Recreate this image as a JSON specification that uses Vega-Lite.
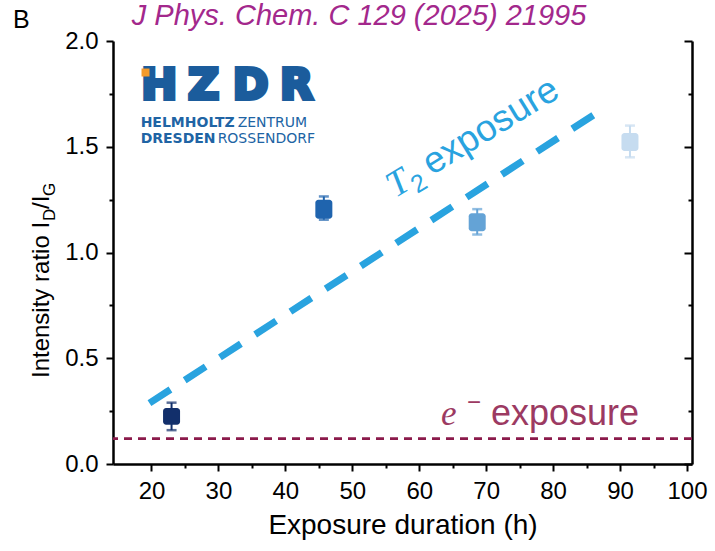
{
  "$schema": "https://vega.github.io/schema/vega-lite/v6.json",
  "width": 579,
  "height": 423,
  "autosize": {"type": "none"},
  "padding": {"left": 113, "top": 41, "right": 23, "bottom": 87},
  "background": "white",
  "config": {"view": {"stroke": null}, "font": "Liberation Sans"},
  "resolve": {"axis": {"x": "independent", "y": "independent"}},
  "datasets": {
    "points": [
      {"t": 23, "mean": 0.225, "q1": 0.185, "q3": 0.265, "lo": 0.16, "hi": 0.29, "sample": "23 h"},
      {"t": 45.75, "mean": 1.205, "q1": 1.16, "q3": 1.25, "lo": 1.155, "hi": 1.265, "sample": "46 h"},
      {"t": 68.66, "mean": 1.14, "q1": 1.1, "q3": 1.185, "lo": 1.085, "hi": 1.205, "sample": "69 h"},
      {"t": 91.48, "mean": 1.52, "q1": 1.48, "q3": 1.565, "lo": 1.45, "hi": 1.6, "sample": "92 h"}
    ],
    "trend": [{"x": 19.7, "y": 0.288}, {"x": 87.5, "y": 1.68}],
    "eline": [{"y": 0.12}],
    "b": [{"x": -0.7, "y": 2.0615}],
    "head": [{"x": 17.06, "y": 2.0757}],
    "ytitle": [{"x": 4.72, "y": 0.4066}],
    "t2": [{"x": 56.4, "y": 1.257}],
    "em": [{"x": 63.25, "y": 0.1844}],
    "logo": [{"x": 18.38, "y": 1.721}],
    "sq": [{"x": 19.11, "y": 1.851}]
  },
  "layer": [
    {
      "data": {"name": "eline"},
      "mark": {"type": "rule", "color": "#8b1a4b", "strokeWidth": 2.7, "strokeDash": [8, 6]},
      "encoding": {
        "y": {"field": "y", "type": "quantitative", "scale": {"domain": [0, 2], "nice": false, "zero": false},
          "axis": {"orient": "left", "values": [0, 0.25, 0.5, 0.75, 1, 1.25, 1.5, 1.75, 2], "labelExpr": "datum.value % 0.5 === 0 ? format(datum.value, '.1f') : ''", "tickSize": {"condition": {"test": "datum.value % 0.5 === 0", "value": 7}, "value": 4}, "tickWidth": 2, "tickColor": "black", "domainColor": "black", "domainWidth": 2.5, "labelFontSize": 24, "labelFont": "Liberation Sans", "labelColor": "black", "labelPadding": 8, "labelFlush": false, "labelOverlap": false, "title": null, "grid": false}}
      }
    },
    {
      "data": {"name": "trend"},
      "mark": {"type": "line", "color": "#29a3df", "strokeWidth": 7, "strokeDash": [25, 17], "strokeCap": "butt"},
      "encoding": {
        "x": {"field": "x", "type": "quantitative", "scale": {"domain": [15, 100], "nice": false, "zero": false},
          "axis": {"orient": "bottom", "values": [20, 25, 30, 35, 40, 45, 50, 55, 60, 65, 70, 75, 80, 85, 90, 95, 100], "labelExpr": "datum.value % 10 === 0 ? datum.label : ''", "tickSize": {"condition": {"test": "datum.value % 10 === 0", "value": 7}, "value": 4}, "tickWidth": 2, "tickColor": "black", "domainColor": "black", "domainWidth": 2.5, "labelFontSize": 24, "labelFont": "Liberation Sans", "labelColor": "black", "labelPadding": 8, "labelFlush": false, "labelOverlap": false, "grid": false, "title": "Exposure duration (h)", "titleFont": "Liberation Sans", "titleFontSize": 28, "titleFontWeight": "normal", "titleColor": "black", "titlePadding": 8}},
        "y": {"field": "y", "type": "quantitative", "scale": {"domain": [0, 2], "nice": false, "zero": false},
          "axis": {"orient": "right", "values": [0, 0.25, 0.5, 0.75, 1, 1.25, 1.5, 1.75, 2], "labels": false, "tickSize": {"condition": {"test": "datum.value % 0.5 === 0", "value": -8}, "value": -4}, "tickWidth": 2, "tickColor": "black", "domainColor": "black", "domainWidth": 2.5, "title": null, "grid": false}}
      }
    },
    {
      "data": {"name": "points"},
      "encoding": {
        "x": {"field": "t", "type": "quantitative", "scale": {"domain": [15, 100], "nice": false, "zero": false}, "axis": null},
        "color": {"field": "sample", "type": "nominal", "scale": {"domain": ["23 h", "46 h", "69 h", "92 h"], "range": ["#122f6b", "#1f64ae", "#64a3d6", "#c6dcf0"]}, "legend": null}
      },
      "layer": [
        {
          "mark": {"type": "rule", "strokeWidth": 2},
          "encoding": {
            "x": {"field": "t", "type": "quantitative", "scale": {"domain": [15, 100], "nice": false, "zero": false}, "axis": {"orient": "top", "ticks": false, "labels": false, "domainColor": "black", "domainWidth": 2.5, "title": null, "grid": false}},
            "y": {"field": "lo", "type": "quantitative", "scale": {"domain": [0, 2], "nice": false, "zero": false}, "axis": null},
            "y2": {"field": "hi"}
          }
        },
        {
          "mark": {"type": "tick", "orient": "horizontal", "size": 10, "thickness": 2.5},
          "encoding": {"y": {"field": "hi", "type": "quantitative", "scale": {"domain": [0, 2], "nice": false, "zero": false}, "axis": null}}
        },
        {
          "mark": {"type": "tick", "orient": "horizontal", "size": 10, "thickness": 2.5},
          "encoding": {"y": {"field": "lo", "type": "quantitative", "scale": {"domain": [0, 2], "nice": false, "zero": false}, "axis": null}}
        },
        {
          "mark": {"type": "bar", "width": 17, "cornerRadius": 3},
          "encoding": {
            "y": {"field": "q1", "type": "quantitative", "scale": {"domain": [0, 2], "nice": false, "zero": false}, "axis": null},
            "y2": {"field": "q3"}
          }
        }
      ]
    },
    {
      "data": {"name": "b"},
      "mark": {"type": "text", "text": "B", "fontSize": 25, "font": "Liberation Sans", "align": "left", "baseline": "alphabetic", "color": "black"},
      "encoding": {
        "x": {"field": "x", "type": "quantitative", "scale": {"domain": [15, 100], "nice": false, "zero": false}, "axis": null},
        "y": {"field": "y", "type": "quantitative", "scale": {"domain": [0, 2], "nice": false, "zero": false}, "axis": null}
      }
    },
    {
      "data": {"name": "head"},
      "mark": {"type": "text", "text": "J Phys. Chem. C 129 (2025) 21995", "fontSize": 29, "font": "Liberation Sans", "fontStyle": "italic", "align": "left", "baseline": "alphabetic", "color": "#a3288c"},
      "encoding": {
        "x": {"field": "x", "type": "quantitative", "scale": {"domain": [15, 100], "nice": false, "zero": false}, "axis": null},
        "y": {"field": "y", "type": "quantitative", "scale": {"domain": [0, 2], "nice": false, "zero": false}, "axis": null}
      }
    },
    {
      "data": {"name": "ytitle"},
      "encoding": {
        "x": {"field": "x", "type": "quantitative", "scale": {"domain": [15, 100], "nice": false, "zero": false}, "axis": null},
        "y": {"field": "y", "type": "quantitative", "scale": {"domain": [0, 2], "nice": false, "zero": false}, "axis": null}
      },
      "layer": [
        {"mark": {"type": "text", "text": "Intensity ratio I", "angle": 270, "fontSize": 24, "font": "Liberation Sans", "align": "left", "baseline": "alphabetic", "color": "black"}},
        {"mark": {"type": "text", "text": "D", "angle": 270, "fontSize": 17, "font": "Liberation Sans", "align": "left", "baseline": "alphabetic", "color": "black", "dx": 157, "dy": 6}},
        {"mark": {"type": "text", "text": "/I", "angle": 270, "fontSize": 24, "font": "Liberation Sans", "align": "left", "baseline": "alphabetic", "color": "black", "dx": 169}},
        {"mark": {"type": "text", "text": "G", "angle": 270, "fontSize": 17, "font": "Liberation Sans", "align": "left", "baseline": "alphabetic", "color": "black", "dx": 182, "dy": 6}}
      ]
    },
    {
      "data": {"name": "t2"},
      "encoding": {
        "x": {"field": "x", "type": "quantitative", "scale": {"domain": [15, 100], "nice": false, "zero": false}, "axis": null},
        "y": {"field": "y", "type": "quantitative", "scale": {"domain": [0, 2], "nice": false, "zero": false}, "axis": null}
      },
      "layer": [
        {"mark": {"type": "text", "text": "T", "angle": -31.5, "fontSize": 37, "font": "Liberation Serif", "fontStyle": "italic", "align": "left", "baseline": "alphabetic", "color": "#29a3df"}},
        {"mark": {"type": "text", "text": "2", "angle": -31.5, "fontSize": 25, "font": "Liberation Sans", "align": "left", "baseline": "alphabetic", "color": "#29a3df", "dx": 21, "dy": 8}},
        {"mark": {"type": "text", "text": "exposure", "angle": -31.5, "fontSize": 37, "font": "Liberation Sans", "align": "left", "baseline": "alphabetic", "color": "#29a3df", "dx": 43}}
      ]
    },
    {
      "data": {"name": "em"},
      "encoding": {
        "x": {"field": "x", "type": "quantitative", "scale": {"domain": [15, 100], "nice": false, "zero": false}, "axis": null},
        "y": {"field": "y", "type": "quantitative", "scale": {"domain": [0, 2], "nice": false, "zero": false}, "axis": null}
      },
      "layer": [
        {"mark": {"type": "text", "text": "e", "fontSize": 35, "font": "Liberation Serif", "fontStyle": "italic", "align": "left", "baseline": "alphabetic", "color": "#9c3a62"}},
        {"mark": {"type": "text", "text": "−", "fontSize": 24, "font": "Liberation Sans", "align": "left", "baseline": "alphabetic", "color": "#9c3a62", "dx": 26, "dy": -15}},
        {"mark": {"type": "text", "text": "exposure", "fontSize": 36, "font": "Liberation Sans", "align": "left", "baseline": "alphabetic", "color": "#9c3a62", "dx": 50}}
      ]
    },
    {
      "data": {"name": "logo"},
      "encoding": {
        "x": {"field": "x", "type": "quantitative", "scale": {"domain": [15, 100], "nice": false, "zero": false}, "axis": null},
        "y": {"field": "y", "type": "quantitative", "scale": {"domain": [0, 2], "nice": false, "zero": false}, "axis": null}
      },
      "layer": [
        {"mark": {"type": "text", "text": "H", "fontSize": 43, "font": "DejaVu Sans", "fontWeight": "bold", "align": "center", "baseline": "alphabetic", "color": "#1b5c9c", "stroke": "#1b5c9c", "strokeWidth": 4, "dx": 18.5, "dy": -1.5}},
        {"mark": {"type": "text", "text": "Z", "fontSize": 43, "font": "DejaVu Sans", "fontWeight": "bold", "align": "center", "baseline": "alphabetic", "color": "#1b5c9c", "stroke": "#1b5c9c", "strokeWidth": 4, "dx": 63, "dy": -1.5}},
        {"mark": {"type": "text", "text": "D", "fontSize": 43, "font": "DejaVu Sans", "fontWeight": "bold", "align": "center", "baseline": "alphabetic", "color": "#1b5c9c", "stroke": "#1b5c9c", "strokeWidth": 4, "dx": 110, "dy": -1.5}},
        {"mark": {"type": "text", "text": "R", "fontSize": 43, "font": "DejaVu Sans", "fontWeight": "bold", "align": "center", "baseline": "alphabetic", "color": "#1b5c9c", "stroke": "#1b5c9c", "strokeWidth": 4, "dx": 156, "dy": -1.5}},
        {"mark": {"type": "text", "text": "HELMHOLTZ", "fontSize": 14, "font": "DejaVu Sans", "fontWeight": "bold", "align": "left", "baseline": "alphabetic", "color": "#2064a4", "dy": 27}},
        {"mark": {"type": "text", "text": "ZENTRUM", "fontSize": 14, "font": "DejaVu Sans", "align": "left", "baseline": "alphabetic", "color": "#2064a4", "dx": 97, "dy": 27}},
        {"mark": {"type": "text", "text": "DRESDEN", "fontSize": 14, "font": "DejaVu Sans", "fontWeight": "bold", "align": "left", "baseline": "alphabetic", "color": "#2064a4", "dy": 43}},
        {"mark": {"type": "text", "text": "ROSSENDORF", "fontSize": 14, "font": "DejaVu Sans", "align": "left", "baseline": "alphabetic", "color": "#2064a4", "dx": 77, "dy": 43}}
      ]
    },
    {
      "data": {"name": "sq"},
      "mark": {"type": "point", "shape": "square", "size": 64, "filled": true, "color": "#f39a2b", "opacity": 1},
      "encoding": {
        "x": {"field": "x", "type": "quantitative", "scale": {"domain": [15, 100], "nice": false, "zero": false}, "axis": null},
        "y": {"field": "y", "type": "quantitative", "scale": {"domain": [0, 2], "nice": false, "zero": false}, "axis": null}
      }
    }
  ]
}
